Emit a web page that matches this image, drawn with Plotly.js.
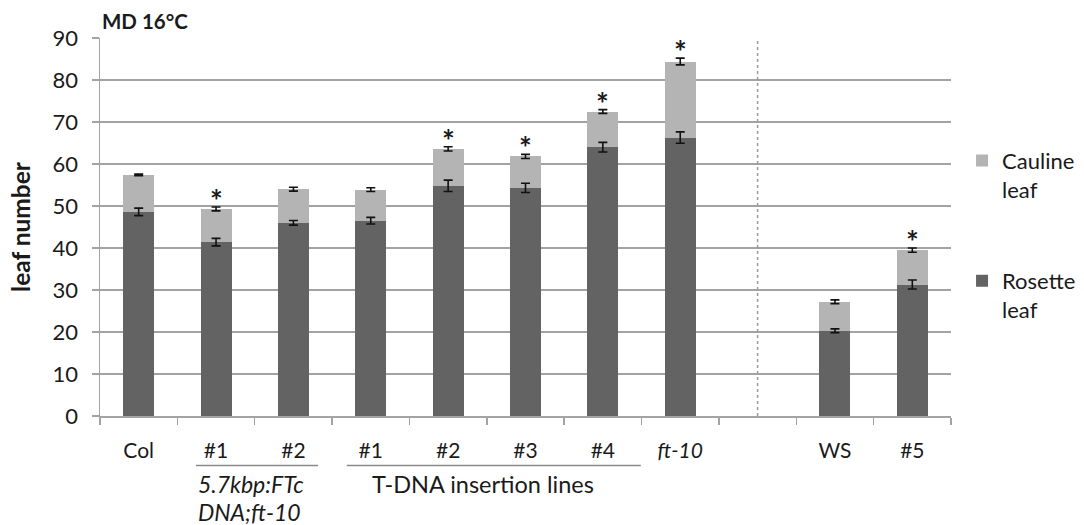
<!DOCTYPE html>
<html>
<head>
<meta charset="utf-8">
<script src="https://cdn.plot.ly/plotly-3.0.1.min.js"></script>
<style>html,body{margin:0;padding:0;background:#fff;}#chart{width:1084px;height:525px;}</style>
</head>
<body>
<div id="chart"></div>
<script>
// ---- data ----
const categoryIds = ["Col", "FTc#1", "FTc#2", "T#1", "T#2", "T#3", "T#4", "ft-10", "gap", "WS", "#5"];
const tickLabels = ["Col", "#1", "#2", "#1", "#2", "#3", "#4", "<i>ft-10</i>", "", "WS", "#5"];
const rosetteLeaf = [48.6, 41.4, 46.0, 46.5, 54.8, 54.3, 64.0, 66.3, null, 20.3, 31.3];
const caulineLeaf = [8.8, 7.9, 8.0, 7.4, 8.8, 7.5, 8.5, 18.1, null, 6.9, 8.2];
const rosetteErr = [0.9, 0.9, 0.55, 0.8, 1.35, 1.1, 1.15, 1.35, null, 0.45, 1.07];
const totalErr = [0.2, 0.45, 0.45, 0.45, 0.5, 0.5, 0.45, 0.8, null, 0.45, 0.5];
const significant = [false, true, false, false, true, true, true, true, false, false, true];
const groupLabelLines = ["<i>5.7kbp:FTc</i>", "<i>DNA;ft-10</i>"];
const tdnaLabel = "T-DNA insertion lines";

const totals = rosetteLeaf.map((r, i) => (r === null ? null : r + caulineLeaf[i]));

const FONT = "Lato, 'Open Sans', sans-serif";
const TXT = "#1a1a1a";
const GRID = "#a3a3a3";

const traces = [
  {
    type: "bar", name: "Rosette<br>leaf", x: categoryIds, y: rosetteLeaf,
    marker: {color: "#636363"}, legendgroup: "r", legendrank: 2, hoverinfo: "skip"
  },
  {
    type: "bar", name: "Cauline<br>leaf", x: categoryIds, y: caulineLeaf,
    marker: {color: "#b4b4b4"}, legendgroup: "c", legendrank: 1, hoverinfo: "skip"
  },
  {
    type: "scatter", mode: "markers", x: categoryIds, y: rosetteLeaf, showlegend: false,
    marker: {opacity: 0, size: 1}, hoverinfo: "skip",
    error_y: {type: "data", array: rosetteErr, visible: true, color: "#111", thickness: 1.6, width: 4.5}
  },
  {
    type: "scatter", mode: "markers", x: categoryIds, y: totals, showlegend: false,
    marker: {opacity: 0, size: 1}, hoverinfo: "skip",
    error_y: {type: "data", array: totalErr, visible: true, color: "#111", thickness: 1.6, width: 4.5}
  }
];

const annotations = [];
categoryIds.forEach((c, i) => {
  if (significant[i]) {
    annotations.push({
      x: c, y: totals[i] + totalErr[i], xref: "x", yref: "y",
      text: "<b>*</b>", showarrow: false, yanchor: "bottom", yshift: -13,
      font: {family: FONT, size: 30, color: TXT}
    });
  }
});
// group labels under the axis (paper y: 0 = axis line, -1/378 per px)
groupLabelLines.forEach((t, k) => {
  annotations.push({
    x: categoryIds.indexOf("FTc#1") - 0.26, y: -(68.5 + 28 * k) / 378.2, xref: "x", yref: "paper",
    text: t, showarrow: false, xanchor: "left", yanchor: "middle",
    font: {family: FONT, size: 23, color: TXT}
  });
});
annotations.push({
  x: categoryIds.indexOf("T#3") - 0.55, y: -68.5 / 378.2, xref: "x", yref: "paper",
  text: tdnaLabel, showarrow: false,
  xanchor: "center", yanchor: "middle", font: {family: FONT, size: 23.5, color: TXT}
});
annotations.push({
  x: 0, y: 1, xref: "paper", yref: "paper", xshift: 0, yshift: 3,
  text: "<b>MD 16°C</b>", showarrow: false, xanchor: "left", yanchor: "bottom",
  font: {family: FONT, size: 20.5, color: TXT}
});

const gapIdx = categoryIds.indexOf("gap");
const shapes = [
  {type: "line", xref: "x", yref: "paper", x0: gapIdx, x1: gapIdx, y0: 0, y1: 1,
   line: {color: "#9a9a9a", width: 1.5, dash: "dot"}},
  {type: "line", xref: "x", yref: "paper", x0: 0.74, x1: 2.32, y0: -0.131, y1: -0.131,
   line: {color: "#8a8a8a", width: 1.5}},
  {type: "line", xref: "x", yref: "paper", x0: 2.69, x1: 6.49, y0: -0.131, y1: -0.131,
   line: {color: "#8a8a8a", width: 1.5}}
];

const layout = {
  width: 1084, height: 525,
  margin: {l: 100, r: 133, t: 38, b: 109, pad: 0},
  paper_bgcolor: "#fff", plot_bgcolor: "#fff",
  barmode: "stack", bargap: 0.6,
  font: {family: FONT, size: 20, color: TXT},
  xaxis: {
    type: "category", tickmode: "array", tickvals: categoryIds, ticktext: tickLabels,
    tickson: "boundaries", ticks: "outside", ticklen: 7, tickcolor: GRID, tickwidth: 1.5,
    showline: true, linecolor: GRID, linewidth: 1.5, showgrid: false,
    ticklabelstandoff: 15, tickfont: {family: FONT, size: 21, color: TXT},
    range: [-0.5, 10.5], fixedrange: true
  },
  yaxis: {
    range: [0, 90], dtick: 10, tick0: 0, ticks: "outside", ticklen: 7, tickcolor: GRID, tickwidth: 1.5,
    showline: true, linecolor: GRID, linewidth: 1.5,
    showgrid: true, gridcolor: GRID, gridwidth: 1.5, zeroline: false,
    ticklabelstandoff: 9, tickfont: {family: FONT, size: 22, color: TXT},
    title: {text: "<b>leaf number</b>", font: {family: FONT, size: 24.5, color: TXT}, standoff: 15},
    fixedrange: true
  },
  showlegend: true,
  legend: {
    xref: "container", yref: "container",
    x: 0.8875, xanchor: "left", y: 0.734, yanchor: "top",
    traceorder: "grouped", tracegroupgap: 60, valign: "top",
    font: {family: FONT, size: 22, color: TXT}, bgcolor: "rgba(0,0,0,0)"
  },
  annotations: annotations,
  shapes: shapes
};

Plotly.newPlot("chart", traces, layout, {displayModeBar: false, staticPlot: true});
</script>
</body>
</html>
